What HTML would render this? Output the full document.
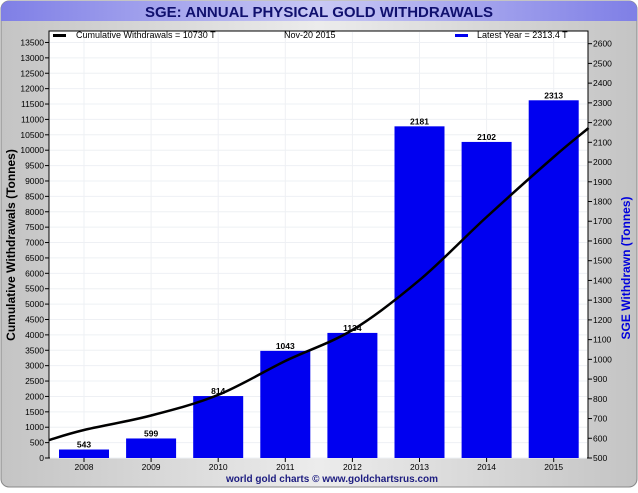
<!DOCTYPE html>
<html><head><meta charset="utf-8"><style>
body{margin:0;width:638px;height:488px;overflow:hidden;font-family:"Liberation Sans",sans-serif}
</style></head><body>
<svg width="638" height="488" xmlns="http://www.w3.org/2000/svg">
<defs>
<linearGradient id="bg" x1="0" y1="0" x2="1" y2="0"><stop offset="0" stop-color="#c4c4c4"/><stop offset="0.5" stop-color="#ececec"/><stop offset="1" stop-color="#c4c4c4"/></linearGradient>
<linearGradient id="tb" x1="0" y1="0" x2="1" y2="0"><stop offset="0" stop-color="#7f7fe6"/><stop offset="0.5" stop-color="#c8c8f4"/><stop offset="1" stop-color="#7f7fe6"/></linearGradient>
</defs>
<rect x="1" y="1" width="636" height="486" rx="8" fill="url(#bg)" stroke="#888"/>
<path d="M1 9 a8 8 0 0 1 8-8 h620 a8 8 0 0 1 8 8 v12 h-636z" fill="url(#tb)"/>
<text x="319" y="17" text-anchor="middle" font-size="15" font-weight="bold" fill="#10106e">SGE: ANNUAL PHYSICAL GOLD WITHDRAWALS</text>
<rect x="49" y="31" width="539" height="427" fill="#fff" stroke="#000"/>
<g id="grid"></g><g id="bars"></g><g id="line"></g><g id="axes"></g>
<g><rect x="53" y="34" width="13" height="3" fill="#000"/><text x="76" y="38" font-size="9">Cumulative Withdrawals  = 10730 T</text></g>
<text x="284" y="38" font-size="9">Nov-20  2015</text>
<g><rect x="455" y="34" width="13" height="3" fill="#0000ee"/><text x="477" y="38" font-size="9">Latest Year  = 2313.4 T</text></g>
<text transform="translate(15,245) rotate(-90)" text-anchor="middle" font-size="12" font-weight="bold">Cumulative Withdrawals (Tonnes)</text>
<text transform="translate(630,268) rotate(-90)" text-anchor="middle" font-size="12" font-weight="bold" fill="#0000dd">SGE Withdrawn (Tonnes)</text>
<text x="332" y="482" text-anchor="middle" font-size="10" font-weight="bold" fill="#1c1c80">world gold charts © www.goldchartsrus.com</text>
</svg>
<script>
const years=["2008","2009","2010","2011","2012","2013","2014","2015"];
const annual=[543,599,814,1043,1134,2181,2102,2313];
const cumX=[-0.52,0,1,2,3,4,5,6,7,7.52];
const cumY=[585,910,1380,2050,3150,4160,5780,7830,9780,10720];
const leftTicks=[0,500,1000,1500,2000,2500,3000,3500,4000,4500,5000,5500,6000,6500,7000,7500,8000,8500,9000,9500,10000,10500,11000,11500,12000,12500,13000,13500];
const rightTicks=[500,600,700,800,900,1000,1100,1200,1300,1400,1500,1600,1700,1800,1900,2000,2100,2200,2300,2400,2500,2600];
const NS="http://www.w3.org/2000/svg";
const X0=84,DX=67.1,BOT=458;
const xs=i=>X0+i*DX;
const yL=v=>BOT-v*0.03078;
const yR=v=>BOT-(v-500)*0.1973;
function mk(p,t,a){const e=document.createElementNS(NS,t);for(const k in a)e.setAttribute(k,a[k]);document.getElementById(p).appendChild(e);return e;}
leftTicks.forEach(v=>{
 const g=mk('grid','line',{x1:50,x2:587,y1:yL(v),y2:yL(v),stroke:'#eef0f4'});
 
 
 const t=mk('axes','line',{x1:45,x2:49,y1:yL(v),y2:yL(v),stroke:'#000'});
 
 
 const l=mk('axes','text',{x:44,y:yL(v)+3,'text-anchor':'end','font-size':8.5});
 l.textContent=v;
 
 
});
rightTicks.forEach(v=>{
 const t=mk('axes','line',{x1:588,x2:592,y1:yR(v),y2:yR(v),stroke:'#000'});
 
 
 const l=mk('axes','text',{x:593,y:yR(v)+3,'font-size':8.5});
 l.textContent=v;
 
 
});
years.forEach((y,i)=>{
 const g=mk('grid','line',{x1:xs(i),x2:xs(i),y1:32,y2:457,stroke:'#eef0f4'});
 
 
 const b=mk('bars','rect',{x:xs(i)-25,y:yR(annual[i]),width:50,height:BOT-yR(annual[i]),fill:'#0000f0'});
 
 
 const v=mk('bars','text',{x:xs(i),y:yR(annual[i])-2,'text-anchor':'middle','font-size':8.5,'font-weight':'bold'});
 v.textContent=annual[i];
 
 
 const t=mk('axes','line',{x1:xs(i),x2:xs(i),y1:458,y2:462,stroke:'#000'});
 
 
 const l=mk('axes','text',{x:xs(i),y:470,'text-anchor':'middle','font-size':8.5});
 l.textContent=y;
 
 
});
// smooth curve (Catmull-Rom -> Bezier)
const P=cumX.map((x,i)=>[xs(x),yL(cumY[i])]);
let d='M'+P[0][0].toFixed(1)+' '+P[0][1].toFixed(1);
for(let i=0;i<P.length-1;i++){
 const p0=P[i-1]||P[i],p1=P[i],p2=P[i+1],p3=P[i+2]||P[i+1];
 const c1=[p1[0]+(p2[0]-p0[0])/6,p1[1]+(p2[1]-p0[1])/6];
 const c2=[p2[0]-(p3[0]-p1[0])/6,p2[1]-(p3[1]-p1[1])/6];
 d+='C'+c1.map(n=>n.toFixed(1)).join(' ')+' '+c2.map(n=>n.toFixed(1)).join(' ')+' '+p2.map(n=>n.toFixed(1)).join(' ');
}
const p=mk('line','path',{d:d,fill:'none',stroke:'#000','stroke-width':2.5,'stroke-linejoin':'round'});


</script>
</body></html>
